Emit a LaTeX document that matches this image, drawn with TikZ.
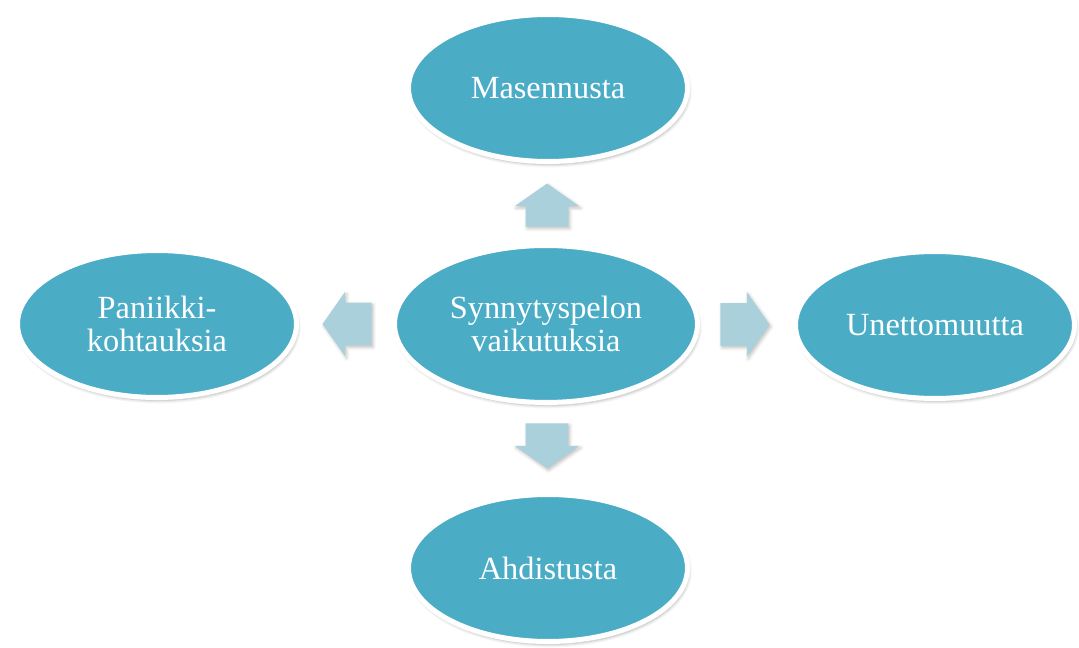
\documentclass[tikz,border=0pt]{standalone}
\usepackage{fontspec}
\setmainfont{Liberation Serif}
\usetikzlibrary{shapes.geometric,shapes.arrows,calc,shadows.blur}
\definecolor{bubblefill}{RGB}{75,172,198}
\definecolor{pointerfill}{RGB}{170,208,220}

\begin{document}
\begin{tikzpicture}[x=0.02cm,y=-0.02cm]
        \tikzstyle{effect}=[ellipse, fill=bubblefill, draw=white, line width=0.1cm, minimum width=5.58cm, minimum height=2.94cm, inner sep=0pt, text=white, align=center, font=\fontsize{18.4}{19}\selectfont, blur shadow={shadow blur steps=6, shadow xshift=0.3mm, shadow yshift=-0.6mm, shadow opacity=30}]
        \tikzstyle{hub}=[effect, minimum width=6.06cm, minimum height=3.14cm]
        \tikzstyle{pointer}=[single arrow, fill=pointerfill, draw=none, inner xsep=0pt, inner ysep=0.42cm, single arrow head extend=0.22cm, single arrow tip angle=110, blur shadow={shadow blur steps=4, shadow xshift=0.3mm, shadow yshift=-0.4mm, shadow opacity=25}]
        \useasboundingbox (0,0) rectangle (1079,648);
        \node[hub] (syn) at (546,324) {Synnytyspelon\\vaikutuksia};
        \node[effect] (mas) at (548,88) {Masennusta};
        \node[effect] (ahd) at (548,568) {Ahdistusta};
        \node[effect] (pan) at (157,324) {Paniikki-\\kohtauksia};
        \node[effect] (une) at (935,325) {Unettomuutta};
        \node[pointer, minimum height=0.86cm, rotate=90] (up) at ($(syn.north)!0.5!(mas.south)+(0,9)$) {};
        \node[pointer, minimum height=0.9cm, rotate=-90] (down) at ($(syn.south)!0.5!(ahd.north)+(0,-10)$) {};
        \node[pointer, minimum height=0.98cm, rotate=180] (left) at ($(syn.west)!0.5!(pan.east)+(9,0)$) {};
        \node[pointer, minimum height=0.98cm] (right) at ($(syn.east)!0.5!(une.west)+(-9,0)$) {};
    \end{tikzpicture}
\end{document}
